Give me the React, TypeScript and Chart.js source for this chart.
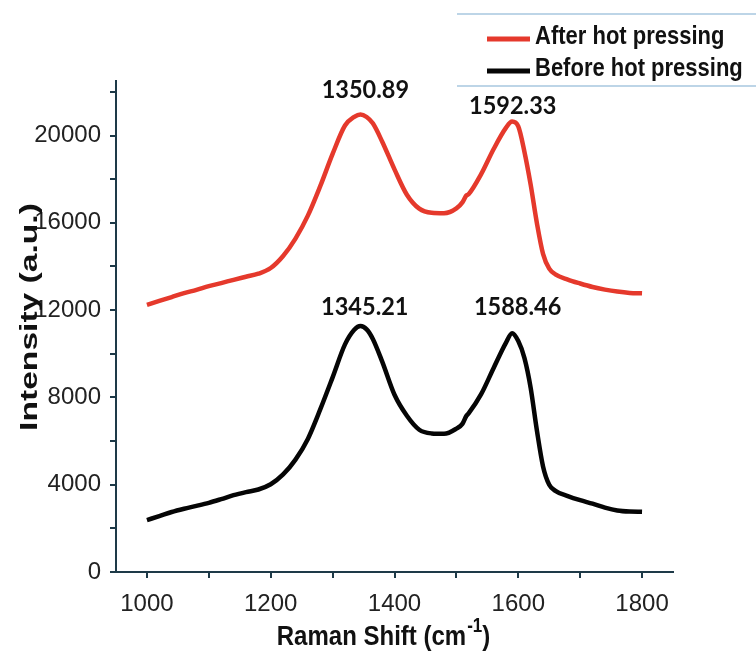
import React, { useEffect, useRef } from 'react';
import { Chart, registerables } from 'chart.js';

Chart.register(...registerables);

// ---- data ----
const wavenumbers = [
  1000, 1020, 1040, 1060, 1080, 1100, 1120, 1140, 1160, 1180, 1200, 1220, 1240, 1260, 1280,
  1300, 1320, 1335, 1345, 1355, 1365, 1380, 1400, 1420, 1440, 1460, 1480, 1500, 1510, 1516,
  1520, 1540, 1560, 1580, 1590, 1600, 1610, 1620, 1630, 1640, 1650, 1660, 1680, 1700, 1720,
  1740, 1760, 1780, 1800,
];
const beforeIntensity = [
  2380, 2560, 2750, 2900, 3030, 3170, 3340, 3520, 3660, 3780, 4020, 4470, 5150, 6100, 7450,
  8920, 10430, 11100, 11270, 11120, 10680, 9650, 8120, 7160, 6520, 6350, 6330, 6570, 6800, 7150,
  7280, 8150, 9340, 10500, 10940, 10580, 9800, 8440, 6500, 4840, 4000, 3720, 3480, 3290, 3130,
  2950, 2820, 2770, 2760,
];
const afterIntensity = [
  12240, 12420, 12600, 12780, 12930, 13100, 13240, 13390, 13530, 13670, 13930, 14480, 15280, 16330, 17680,
  19160, 20460, 20860, 20970, 20850, 20560, 19730, 18450, 17290, 16650, 16460, 16440, 16660, 16950, 17250,
  17320, 18230, 19370, 20350, 20640, 20420, 19250, 17750, 16000, 14580, 13900, 13640, 13400, 13220, 13060,
  12940, 12850, 12790, 12770,
];
const seriesNames = ['After hot pressing', 'Before hot pressing'];
const seriesColors = ['#e5392c', '#050505'];

const peakLabels = ['1350.89', '1592.33', '1345.21', '1588.46'];
const peakLabelX = [1353, 1591, 1352, 1599];
const peakLabelY = [22070, 21330, 12120, 12140];

const xTickValues = [1000, 1100, 1200, 1300, 1400, 1500, 1600, 1700, 1800];
const xLabelValues = [1000, 1200, 1400, 1600, 1800];
const yTickValues = [0, 2000, 4000, 6000, 8000, 10000, 12000, 14000, 16000, 18000, 20000, 22000];
const yLabelValues = [0, 4000, 8000, 12000, 16000, 20000];

const xTitleMain = 'Raman Shift (cm';
const xTitleSup = '-1';
const xTitleEnd = ')';
const yTitle = 'Intensity (a.u.)';

const X_MIN = 950;
const X_MAX = 1850;
const Y_MIN = 0;
const Y_MAX = 22500;

const AXIS_COLOR = '#1e3a48';
const TEXT_COLOR = '#222222';
const SANS = '"Liberation Sans", Arial, sans-serif';

const peakLabelPlugin = {
  id: 'peakLabels',
  afterDatasetsDraw(chart: any) {
    const { ctx, scales } = chart;
    ctx.save();
    ctx.fillStyle = '#111111';
    ctx.font = 'bold 23.5px Lato, "Open Sans", sans-serif';
    ctx.textAlign = 'center';
    ctx.textBaseline = 'middle';
    peakLabels.forEach((t, i) => {
      const px = scales.x.getPixelForValue(peakLabelX[i]);
      const py = scales.y.getPixelForValue(peakLabelY[i]);
      ctx.save();
      ctx.translate(px, py);
      ctx.scale(1, 1.05);
      ctx.fillText(t, 0, 0);
      ctx.restore();
    });
    ctx.restore();
  },
};

const decorPlugin = {
  id: 'decor',
  afterDraw(chart: any) {
    const { ctx, chartArea } = chart;
    ctx.save();
    // legend frame lines
    ctx.strokeStyle = '#a8c8e0';
    ctx.lineWidth = 1.5;
    ctx.beginPath();
    ctx.moveTo(457, 14);
    ctx.lineTo(756, 14);
    ctx.moveTo(457, 86);
    ctx.lineTo(756, 86);
    ctx.stroke();
    // legend entries
    const rows = [39, 71];
    seriesNames.forEach((name, i) => {
      ctx.strokeStyle = seriesColors[i];
      ctx.lineWidth = 5;
      ctx.beginPath();
      ctx.moveTo(487, rows[i]);
      ctx.lineTo(530, rows[i]);
      ctx.stroke();
      ctx.save();
      ctx.translate(535, rows[i] + 5);
      ctx.scale(1, 1.15);
      ctx.fillStyle = '#111111';
      ctx.font = `bold 22px ${SANS}`;
      ctx.textAlign = 'left';
      ctx.textBaseline = 'alphabetic';
      ctx.fillText(name, 0, 0);
      ctx.restore();
    });

    // x title
    const cx = (chartArea.left + chartArea.right) / 2 - 11;
    const baseY = 645;
    ctx.fillStyle = '#111111';
    ctx.textBaseline = 'alphabetic';
    ctx.textAlign = 'left';
    const mainFont = `bold 24px ${SANS}`;
    const supFont = `bold 17px ${SANS}`;
    ctx.font = mainFont;
    const w1 = ctx.measureText(xTitleMain).width;
    const w3 = ctx.measureText(xTitleEnd).width;
    ctx.font = supFont;
    const w2 = ctx.measureText(xTitleSup).width;
    const total = w1 + w2 + w3 + 1;
    const x0 = cx - total / 2;
    ctx.save();
    ctx.translate(0, baseY);
    ctx.scale(1, 1.15);
    ctx.font = mainFont;
    ctx.fillText(xTitleMain, x0, 0);
    ctx.font = supFont;
    ctx.fillText(xTitleSup, x0 + w1 + 1, -11);
    ctx.font = mainFont;
    ctx.fillText(xTitleEnd, x0 + w1 + w2 + 1, 0);
    ctx.restore();

    // y title
    ctx.save();
    ctx.translate(30, 317);
    ctx.rotate(-Math.PI / 2);
    ctx.scale(1.4, 1);
    ctx.font = `bold 24px ${SANS}`;
    ctx.textAlign = 'center';
    ctx.textBaseline = 'middle';
    ctx.fillText(yTitle, 0, 0);
    ctx.restore();

    ctx.restore();
  },
};

export default function App() {
  const canvasRef = useRef<HTMLCanvasElement>(null);

  useEffect(() => {
    if (!canvasRef.current) return;
    const toPoints = (ys: number[]) => wavenumbers.map((x, i) => ({ x, y: ys[i] }));
    const chart = new Chart(canvasRef.current, {
      type: 'line',
      data: {
        datasets: [
          {
            label: seriesNames[0],
            data: toPoints(afterIntensity),
            borderColor: seriesColors[0],
            backgroundColor: seriesColors[0],
            borderWidth: 4.5,
            pointRadius: 0,
            cubicInterpolationMode: 'monotone',
          },
          {
            label: seriesNames[1],
            data: toPoints(beforeIntensity),
            borderColor: seriesColors[1],
            backgroundColor: seriesColors[1],
            borderWidth: 4.5,
            pointRadius: 0,
            cubicInterpolationMode: 'monotone',
          },
        ],
      },
      options: {
        responsive: false,
        animation: false,
        devicePixelRatio: 1,
        layout: { padding: { top: 81, right: 83, left: 0, bottom: 0 } },
        plugins: {
          legend: { display: false },
          tooltip: { enabled: false },
          title: { display: false },
        },
        scales: {
          x: {
            type: 'linear',
            min: X_MIN,
            max: X_MAX,
            afterBuildTicks: (scale: any) => {
              scale.ticks = xTickValues.map((v) => ({ value: v }));
            },
            afterFit: (scale: any) => {
              scale.height = 79;
            },
            border: { display: true, color: AXIS_COLOR, width: 2 },
            grid: {
              drawOnChartArea: false,
              drawTicks: true,
              tickLength: 6,
              color: AXIS_COLOR,
              lineWidth: 2,
            },
            ticks: {
              autoSkip: false,
              maxRotation: 0,
              padding: 12,
              color: TEXT_COLOR,
              font: { family: SANS, size: 24 },
              callback: (v: any) => (xLabelValues.includes(Number(v)) ? String(v) : ''),
            },
          },
          y: {
            type: 'linear',
            min: Y_MIN,
            max: Y_MAX,
            afterBuildTicks: (scale: any) => {
              scale.ticks = yTickValues.map((v) => ({ value: v }));
            },
            afterFit: (scale: any) => {
              scale.width = 116;
            },
            border: { display: true, color: AXIS_COLOR, width: 2 },
            grid: {
              drawOnChartArea: false,
              drawTicks: true,
              tickLength: 6,
              color: AXIS_COLOR,
              lineWidth: 2,
            },
            ticks: {
              autoSkip: false,
              padding: 9,
              color: TEXT_COLOR,
              font: { family: SANS, size: 24 },
              callback: (v: any) => (yLabelValues.includes(Number(v)) ? String(v) : ''),
            },
          },
        },
      },
      plugins: [peakLabelPlugin, decorPlugin],
    } as any);
    return () => chart.destroy();
  }, []);

  return (
    <div style={{ position: 'absolute', left: 0, top: 0, width: 756, height: 651, background: '#ffffff' }}>
      <canvas ref={canvasRef} width={756} height={651} style={{ width: 756, height: 651, display: 'block' }} />
    </div>
  );
}
